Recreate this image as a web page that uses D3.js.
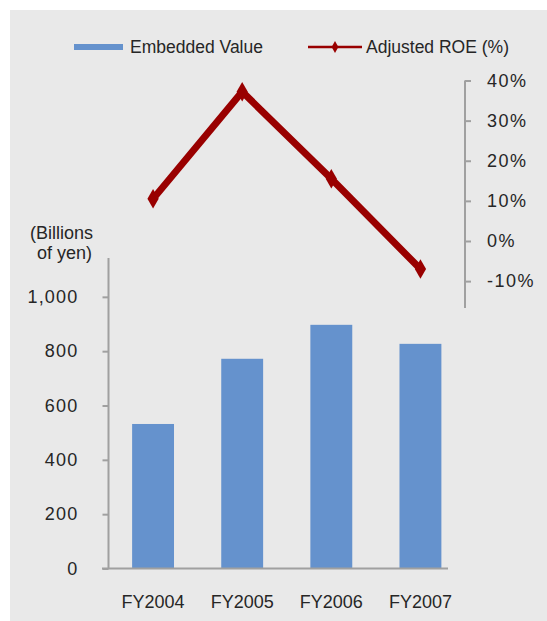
<!DOCTYPE html>
<html>
<head>
<meta charset="utf-8">
<script src="https://cdn.jsdelivr.net/npm/d3@7"></script>
<style>
  body { margin: 0; background: #ffffff; }
  svg text { font-family: "Liberation Sans", Arial, sans-serif; fill: #262626; }
</style>
</head>
<body>
<svg id="chart" width="547" height="621"></svg>
<script>
// ---- Data ----
const categories = ["FY2004", "FY2005", "FY2006", "FY2007"];
const embeddedValue = [532, 772, 897, 827];          // billions of yen
const adjustedROE = [0.105, 0.372, 0.155, -0.070];   // ratio
const leftTicks = [0, 200, 400, 600, 800, 1000];
const rightTicks = [-0.10, 0, 0.10, 0.20, 0.30, 0.40];
const seriesNames = ["Embedded Value", "Adjusted ROE (%)"];

// ---- Styles ----
const barColor = "#6592cd";
const lineColor = "#990000";
const axisColor = "#a0a0a0";
const bgColor = "#e9e9e9";

const svg = d3.select("#chart");

svg.append("rect")
  .attr("x", 10).attr("y", 10)
  .attr("width", 537).attr("height", 611)
  .attr("fill", bgColor);

// ---- Scales ----
const x = d3.scaleBand()
  .domain(categories)
  .range([108.5, 465])
  .paddingInner(0.53)
  .paddingOuter(0.265);

const yLeft = d3.scaleLinear().domain([0, 1143]).range([568.5, 258]);
const yRight = d3.scaleLinear().domain([-0.167, 0.40]).range([308, 80.5]);

// ---- Bars ----
svg.append("g").selectAll("rect")
  .data(categories)
  .join("rect")
  .attr("x", d => x(d))
  .attr("width", x.bandwidth())
  .attr("y", (d, i) => yLeft(embeddedValue[i]))
  .attr("height", (d, i) => yLeft(0) - yLeft(embeddedValue[i]))
  .attr("fill", barColor);

// ---- Left axis ----
const leftAxis = d3.axisLeft(yLeft)
  .tickValues(leftTicks)
  .tickSize(6)
  .tickPadding(24)
  .tickFormat(d3.format(","));
const gl = svg.append("g").attr("transform", "translate(108.5,0)").call(leftAxis);
gl.select(".domain").remove();
gl.append("line").attr("x1", 0).attr("x2", 0)
  .attr("y1", yLeft.range()[1]).attr("y2", yLeft.range()[0])
  .attr("stroke", axisColor).attr("stroke-width", 2);
gl.selectAll(".tick line").attr("stroke", axisColor).attr("stroke-width", 2);
gl.selectAll(".tick text").attr("font-size", 18).attr("letter-spacing", "1.2px")
  .style("fill", "#262626");

// baseline
svg.append("line")
  .attr("x1", 102).attr("x2", 448)
  .attr("y1", yLeft(0)).attr("y2", yLeft(0))
  .attr("stroke", axisColor).attr("stroke-width", 2);

// unit label
const unit = svg.append("text").attr("text-anchor", "middle").attr("font-size", 18);
unit.append("tspan").attr("x", 61.5).attr("y", 239).text("(Billions");
unit.append("tspan").attr("x", 64.5).attr("y", 259).text("of yen)");

// ---- X labels ----
const bx = d3.axisBottom(x).tickSize(0).tickPadding(0);
const gx = svg.append("g").attr("transform", "translate(0,596)").call(bx);
gx.select(".domain").remove();
gx.selectAll(".tick text").attr("font-size", 18).attr("dy", "0.68em")
  .style("fill", "#262626");

// ---- Right axis ----
const rightAxis = d3.axisRight(yRight)
  .tickValues(rightTicks)
  .tickSize(6)
  .tickPadding(16)
  .tickFormat(d3.format(".0%"));
const gr = svg.append("g").attr("transform", "translate(465,0)").call(rightAxis);
gr.select(".domain").remove();
gr.append("line").attr("x1", 0).attr("x2", 0)
  .attr("y1", yRight.range()[1]).attr("y2", yRight.range()[0])
  .attr("stroke", axisColor).attr("stroke-width", 2);
gr.selectAll(".tick line").attr("stroke", axisColor).attr("stroke-width", 2);
gr.selectAll(".tick text").attr("font-size", 18).attr("letter-spacing", "1.5px")
  .style("fill", "#262626")
  .text(d => (d < 0 ? "-" : "") + d3.format(".0%")(Math.abs(d)));

// ---- Line ----
const lineGen = d3.line()
  .x((d, i) => x(categories[i]) + x.bandwidth() / 2)
  .y(d => yRight(d));
svg.append("path")
  .datum(adjustedROE)
  .attr("d", lineGen)
  .attr("fill", "none")
  .attr("stroke", lineColor)
  .attr("stroke-width", 7)
  .attr("stroke-linejoin", "miter");

const diamond = d3.symbol().type(d3.symbolDiamond).size(110);
svg.append("g").selectAll("path")
  .data(adjustedROE)
  .join("path")
  .attr("d", diamond)
  .attr("transform", (d, i) => `translate(${x(categories[i]) + x.bandwidth() / 2},${yRight(d)})`)
  .attr("fill", lineColor);

// ---- Legend ----
const leg = svg.append("g");
leg.append("line").attr("x1", 74).attr("x2", 123).attr("y1", 47).attr("y2", 47)
  .attr("stroke", barColor).attr("stroke-width", 6);
leg.append("text").attr("x", 130).attr("y", 53).attr("font-size", 17.5).text(seriesNames[0]);
leg.append("line").attr("x1", 308).attr("x2", 362).attr("y1", 47).attr("y2", 47)
  .attr("stroke", lineColor).attr("stroke-width", 2.5);
leg.append("path").attr("d", d3.symbol().type(d3.symbolDiamond).size(40))
  .attr("transform", "translate(335,47)").attr("fill", lineColor);
leg.append("text").attr("x", 366).attr("y", 53).attr("font-size", 17.5).text(seriesNames[1]);
</script>
</body>
</html>
